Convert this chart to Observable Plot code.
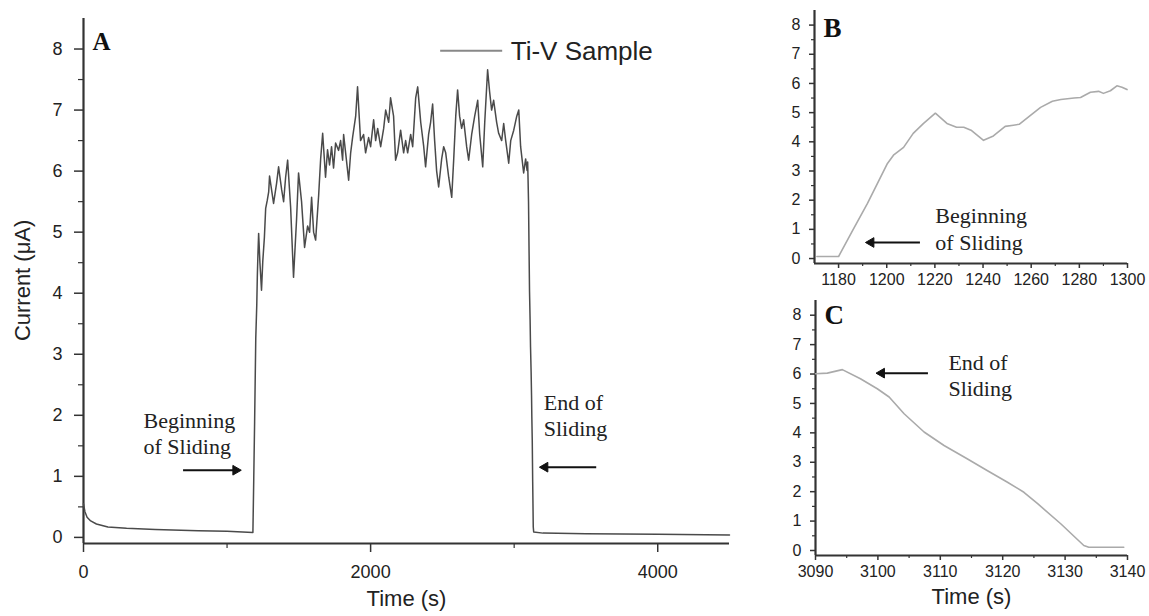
<!DOCTYPE html>
<html><head><meta charset="utf-8">
<script src="https://cdn.jsdelivr.net/npm/d3@7"></script>
<script src="https://cdn.jsdelivr.net/npm/@observablehq/plot@0.6"></script>
<style>
html,body{margin:0;padding:0;background:#fff;}
#fig{position:relative;width:1149px;height:616px;overflow:hidden;background:#fff;}
#fig svg{position:absolute;}
</style></head><body><div id="fig"></div>
<script>
// ---- Data (time s, current µA) ----
const seriesA = [
 [0,0.55],[10,0.42],[25,0.33],[50,0.27],[90,0.22],[170,0.17],[300,0.15],[500,0.13],[800,0.11],[1000,0.10],[1180,0.08],
 [1186,0.96],[1192,1.89],[1200,3.26],[1207,3.81],[1211,4.29],[1215,4.63],[1220,4.98],[1229,4.5],[1240,4.05],[1249,4.53],
 [1260,4.91],[1269,5.39],[1280,5.52],[1290,5.66],[1296,5.92],[1324,5.47],[1345,5.8],[1359,6.07],[1380,5.7],[1394,5.5],
 [1408,5.9],[1422,6.18],[1443,5.4],[1463,4.26],[1484,5.2],[1498,5.97],[1519,5.5],[1540,4.75],[1561,5.1],[1575,5.0],
 [1589,5.57],[1603,5.0],[1617,4.87],[1638,5.6],[1652,6.2],[1666,6.62],[1686,5.9],[1700,6.35],[1714,6.1],[1728,6.4],
 [1742,6.05],[1756,6.46],[1777,6.34],[1791,6.5],[1805,6.18],[1812,6.6],[1826,6.3],[1847,5.85],[1861,6.3],[1875,6.56],
 [1896,6.9],[1909,7.38],[1930,6.5],[1951,6.6],[1965,6.3],[1986,6.55],[2000,6.4],[2021,6.84],[2035,6.5],[2049,6.7],
 [2070,6.4],[2091,6.7],[2105,7.0],[2126,6.8],[2139,7.2],[2160,6.9],[2174,6.18],[2188,6.3],[2209,6.67],[2230,6.3],
 [2244,6.5],[2258,6.3],[2279,6.6],[2293,6.4],[2314,7.2],[2328,7.38],[2349,6.8],[2370,6.4],[2383,6.07],[2404,6.6],
 [2418,6.8],[2432,7.1],[2446,6.5],[2460,6.0],[2474,5.74],[2495,6.2],[2509,6.4],[2523,6.3],[2544,5.9],[2565,5.57],
 [2579,6.2],[2593,6.9],[2606,7.33],[2620,6.9],[2634,6.7],[2648,6.84],[2669,6.4],[2683,6.18],[2704,6.6],[2725,6.9],
 [2746,7.16],[2760,6.6],[2781,6.07],[2795,6.8],[2815,7.66],[2829,7.3],[2843,7.0],[2857,7.16],[2878,6.8],[2892,6.62],
 [2913,6.5],[2927,6.78],[2941,6.5],[2962,6.13],[2976,6.5],[2997,6.67],[3018,6.9],[3032,7.0],[3045,6.4],[3066,5.97],
 [3080,6.2],[3090,6.01],[3094,6.15],[3097,5.84],[3100,5.5],[3104,4.65],[3107,4.03],[3111,3.57],[3114,3.12],[3118,2.72],
 [3121,2.33],[3123,1.98],[3126,1.59],[3129,0.91],[3133,0.17],[3136,0.09],[3200,0.07],[3500,0.06],[4000,0.05],[4500,0.04]
];
const seriesB = [
 [1171,0.07],[1180,0.07],[1185.8,0.96],[1192,1.89],[1200.3,3.26],[1202.8,3.54],[1207,3.81],[1211,4.29],[1215.3,4.63],
 [1220.2,4.98],[1225,4.63],[1229,4.5],[1232,4.5],[1235,4.4],[1240.2,4.05],[1244.3,4.2],[1249.2,4.53],[1252.6,4.57],
 [1255,4.6],[1259.7,4.91],[1263.9,5.18],[1268.8,5.39],[1272.3,5.45],[1277.8,5.5],[1280.5,5.52],[1284.6,5.7],[1288,5.73],
 [1290,5.66],[1292.9,5.75],[1295.6,5.92],[1297.7,5.87],[1299.8,5.79]
];
const seriesC = [
 [3090,6.01],[3091.9,6.03],[3094.3,6.15],[3097.2,5.84],[3099.9,5.5],[3101.8,5.22],[3104.2,4.65],[3107.4,4.03],
 [3110.6,3.57],[3114.3,3.12],[3117.5,2.72],[3120.7,2.33],[3123.4,1.98],[3125.6,1.59],[3129.3,0.91],[3133.0,0.17],
 [3133.8,0.11],[3139.4,0.11]
];
const yTicks = [0,1,2,3,4,5,6,7,8];
const yMinor = [0.5,1.5,2.5,3.5,4.5,5.5,6.5,7.5];
const xTicksA = [0,2000,4000];
const xMinorA = [1000,3000];
const xTicksB = [1180,1200,1220,1240,1260,1280,1300];
const xMinorB = [1190,1210,1230,1250,1270,1290];
const xTicksC = [3090,3100,3110,3120,3130,3140];
const xMinorC = [3095,3105,3115,3125,3135];

const SANS = "'Liberation Sans', Arial, sans-serif";
const SERIF = "'Liberation Serif', 'Times New Roman', serif";
const AX = "#333";
const toObj = s => s.map(([t, c]) => ({t, c}));
const plain = d => String(d);

function arrowMarks(y, xHead, xTail, dir) {
  return [
    Plot.ruleY([y], {x1: xTail, x2: xHead, stroke: "#111", strokeWidth: 2}),
    Plot.dot([y], {x: xHead, y: d => d, symbol: "triangle", rotate: dir, r: 3.6, fill: "#111", stroke: "#111", strokeWidth: 1})
  ];
}

function axes(xT, xM, fs, tsY, tpY, tsX, tpX, x0, y0) {
  return [
    Plot.axisY({ticks: yMinor, tickSize: Math.max(3, tsY - 4), tickFormat: () => "", stroke: AX, strokeWidth: 1.2}),
    Plot.axisY({ticks: yTicks, tickSize: tsY, tickPadding: tpY, tickFormat: plain, fontSize: fs, stroke: AX, strokeWidth: 1.5, fill: "#222"}),
    Plot.axisX({ticks: xM, tickSize: Math.max(3, tsX - 4), tickFormat: () => "", stroke: AX, strokeWidth: 1.2}),
    Plot.axisX({ticks: xT, tickSize: tsX, tickPadding: tpX, tickFormat: plain, fontSize: fs, stroke: AX, strokeWidth: 1.5, fill: "#222"}),
    Plot.ruleX([x0], {stroke: AX, strokeWidth: 2.2}),
    Plot.ruleY([y0], {stroke: AX, strokeWidth: 2.2})
  ];
}

const style = {fontFamily: SANS, background: "transparent", overflow: "visible", color: "#222"};

// ---- Panel A ----
const A = Plot.plot({
  width: 740, height: 616, marginLeft: 83, marginRight: 11, marginTop: 18, marginBottom: 73,
  x: {domain: [0, 4500], label: null}, y: {domain: [-0.1, 8.5], label: null},
  style,
  marks: [
    ...axes(xTicksA, xMinorA, 18, 9, 12, 9, 13, 0, -0.1),
    Plot.line(toObj(seriesA), {x: "t", y: "c", stroke: "#4a4a4a", strokeWidth: 1.5}),
    Plot.text(["Time (s)"], {frameAnchor: "bottom", dy: 62, fontSize: 22, fill: "#222"}),
    Plot.text(["Current (μA)"], {x: -420, y: 4.21, rotate: -90, fontSize: 22, fill: "#222"}),
    Plot.text(["A"], {frameAnchor: "top-left", dx: 9, dy: 14, lineAnchor: "top", textAnchor: "start", fontFamily: SERIF, fontWeight: "bold", fontSize: 25, fill: "#111"}),
    Plot.ruleY([7.97], {x1: 2488, x2: 2920, stroke: "#888", strokeWidth: 2}),
    Plot.text(["Ti-V Sample"], {x: 2976, y: 7.95, textAnchor: "start", fontSize: 26, fill: "#222"}),
    Plot.text(["Beginning\nof Sliding"], {x: 418, y: 2.1, textAnchor: "start", lineAnchor: "top", lineHeight: 1.2, fontFamily: SERIF, fontSize: 22, fill: "#222"}),
    ...arrowMarks(1.1, 1060, 697, 90),
    Plot.text(["End of\nSliding"], {x: 3206, y: 2.4, textAnchor: "start", lineAnchor: "top", lineHeight: 1.2, fontFamily: SERIF, fontSize: 22, fill: "#222"}),
    ...arrowMarks(1.15, 3215, 3575, -90)
  ]
});
A.style.left = "0px"; A.style.top = "0px";

// ---- Panel B ----
const B = Plot.plot({
  width: 389, height: 300, marginLeft: 54, marginRight: 22, marginTop: 10, marginBottom: 37,
  x: {domain: [1170, 1300], label: null}, y: {domain: [-0.17, 8.5], label: null},
  style,
  marks: [
    ...axes(xTicksB, xMinorB, 16, 5, 9, 5, 5, 1170, -0.17),
    Plot.line(toObj(seriesB), {x: "t", y: "c", stroke: "#aaa", strokeWidth: 1.6}),
    Plot.text(["B"], {frameAnchor: "top-left", dx: 9, dy: 7, lineAnchor: "top", textAnchor: "start", fontFamily: SERIF, fontWeight: "bold", fontSize: 27, fill: "#111"}),
    Plot.text(["Beginning\nof Sliding"], {x: 1220.2, y: 1.85, textAnchor: "start", lineAnchor: "top", lineHeight: 1.2, fontFamily: SERIF, fontSize: 22, fill: "#222"}),
    ...arrowMarks(0.55, 1193.5, 1214, -90)
  ]
});
B.style.left = "760px"; B.style.top = "0px";

// ---- Panel C ----
const C = Plot.plot({
  width: 389, height: 326, marginLeft: 55, marginRight: 22, marginTop: 10, marginBottom: 61,
  x: {domain: [3090, 3140], label: null}, y: {domain: [-0.17, 8.5], label: null},
  style,
  marks: [
    ...axes(xTicksC, xMinorC, 16, 5, 9, 5, 5, 3090, -0.17),
    Plot.line(toObj(seriesC), {x: "t", y: "c", stroke: "#aaa", strokeWidth: 1.6}),
    Plot.text(["C"], {frameAnchor: "top-left", dx: 9, dy: 4, lineAnchor: "top", textAnchor: "start", fontFamily: SERIF, fontWeight: "bold", fontSize: 27, fill: "#111"}),
    Plot.text(["End of\nSliding"], {x: 3111.3, y: 6.78, textAnchor: "start", lineAnchor: "top", lineHeight: 1.2, fontFamily: SERIF, fontSize: 22, fill: "#222"}),
    ...arrowMarks(6.03, 3100.6, 3108.1, -90),
    Plot.text(["Time (s)"], {frameAnchor: "bottom", dy: 48, fontSize: 22, fill: "#222"})
  ]
});
C.style.left = "760px"; C.style.top = "290px";

const fig = document.getElementById("fig");
fig.append(A, B, C);
</script>
</body></html>
